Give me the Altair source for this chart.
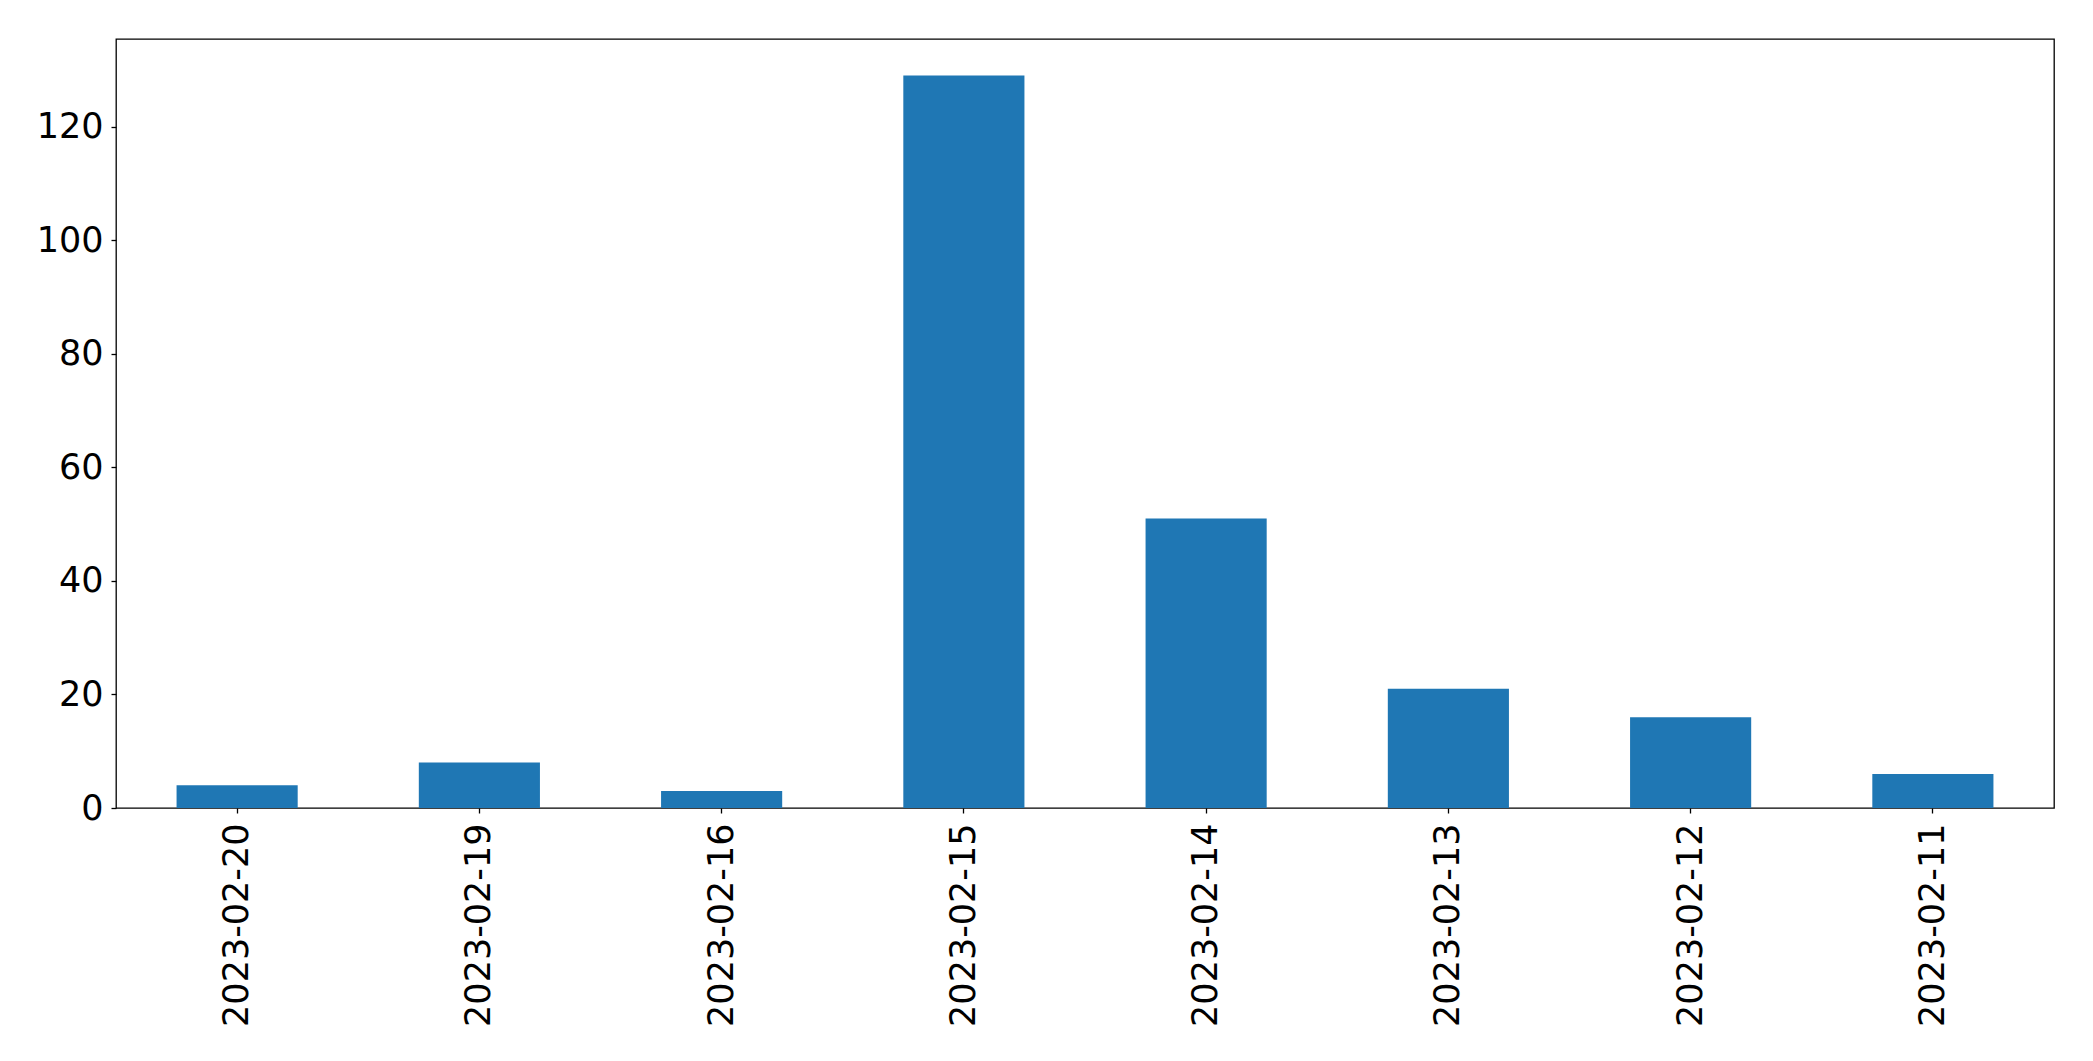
import altair as alt
import pandas as pd

dates = ["2023-02-20", "2023-02-19", "2023-02-16", "2023-02-15",
         "2023-02-14", "2023-02-13", "2023-02-12", "2023-02-11"]
counts = [4, 8, 3, 129, 51, 21, 16, 6]
y_ticks = [0, 20, 40, 60, 80, 100, 120]

df = pd.DataFrame({"date": dates, "count": counts})

chart = alt.Chart(df).mark_bar(color="#1f77b4").encode(
    x=alt.X("date:N", sort=dates, title=None,
            scale=alt.Scale(paddingInner=0.5, paddingOuter=0.25),
            axis=alt.Axis(labelAngle=-90, labelFontSize=35, labelFont="DejaVu Sans",
                          labelColor="black", tickColor="black", tickSize=5,
                          tickWidth=1.3, labelPadding=10, labelLimit=0,
                          domain=False, grid=False)),
    y=alt.Y("count:Q", title=None,
            scale=alt.Scale(domain=[0, 135.45], nice=False, zero=True),
            axis=alt.Axis(values=y_ticks, labelFontSize=35, labelFont="DejaVu Sans",
                          labelColor="black", tickColor="black", tickSize=5,
                          tickWidth=1.3, labelPadding=8, domain=False, grid=False)),
).properties(
    width=1938, height=769,
    autosize=alt.AutoSizeParams(type="none"),
    padding={"left": 108, "top": 31, "right": 30, "bottom": 230},
).configure(
    background="white",
    view=alt.ViewConfig(stroke="black", strokeWidth=1.3),
)

chart.save("out.html", embed_options={"renderer": "svg", "actions": False})
